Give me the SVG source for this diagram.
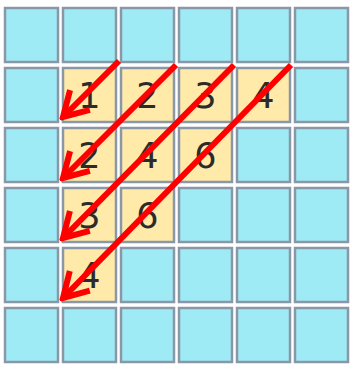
<svg xmlns="http://www.w3.org/2000/svg" width="351" height="367" viewBox="0 0 351 367">
<style>
.c{fill:#9eebf5;stroke:#8a97a6;stroke-width:2.5}
.y{fill:#ffeaaa;stroke:#8a97a6;stroke-width:2.5}
.t{font-family:"DejaVu Sans",sans-serif;font-size:35px;fill:#2b2b2b;text-anchor:middle}
.a{stroke:#ff0000;stroke-width:6;fill:none;stroke-linecap:butt}
</style>
<defs>
<marker id="ah" markerUnits="userSpaceOnUse" viewBox="-30 -18 34 36" refX="0" refY="0" markerWidth="34" markerHeight="36" orient="auto">
<path d="M-24,-14 L0,0 L-24,14" fill="none" stroke="#ff0000" stroke-width="6" stroke-linejoin="miter"/>
</marker>
</defs>
<rect width="351" height="367" fill="#ffffff"/>
<g id="grid">
<g id="r0">
<rect class="c" x="5" y="8" width="53" height="54"/><rect class="c" x="63" y="8" width="53" height="54"/><rect class="c" x="121" y="8" width="53" height="54"/><rect class="c" x="179" y="8" width="53" height="54"/><rect class="c" x="237" y="8" width="53" height="54"/><rect class="c" x="295" y="8" width="53" height="54"/>
</g>
<g id="r1">
<rect class="c" x="5" y="68" width="53" height="54"/>
<g id="n11"><rect class="y" x="63" y="68" width="53" height="54"/><text class="t" x="89.5" y="108">1</text></g>
<g id="n12"><rect class="y" x="121" y="68" width="53" height="54"/><text class="t" x="147.5" y="108">2</text></g>
<g id="n13"><rect class="y" x="179" y="68" width="53" height="54"/><text class="t" x="205.5" y="108">3</text></g>
<g id="n14"><rect class="y" x="237" y="68" width="53" height="54"/><text class="t" x="263.5" y="108">4</text></g>
<rect class="c" x="295" y="68" width="53" height="54"/>
</g>
<g id="r2">
<rect class="c" x="5" y="128" width="53" height="54"/>
<g id="n21"><rect class="y" x="63" y="128" width="53" height="54"/><text class="t" x="89.5" y="168">2</text></g>
<g id="n22"><rect class="y" x="121" y="128" width="53" height="54"/><text class="t" x="147.5" y="168">4</text></g>
<g id="n23"><rect class="y" x="179" y="128" width="53" height="54"/><text class="t" x="205.5" y="168">6</text></g>
<rect class="c" x="237" y="128" width="53" height="54"/><rect class="c" x="295" y="128" width="53" height="54"/>
</g>
<g id="r3">
<rect class="c" x="5" y="188" width="53" height="54"/>
<g id="n31"><rect class="y" x="63" y="188" width="53" height="54"/><text class="t" x="89.5" y="228">3</text></g>
<g id="n32"><rect class="y" x="121" y="188" width="53" height="54"/><text class="t" x="147.5" y="228">6</text></g>
<rect class="c" x="179" y="188" width="53" height="54"/><rect class="c" x="237" y="188" width="53" height="54"/><rect class="c" x="295" y="188" width="53" height="54"/>
</g>
<g id="r4">
<rect class="c" x="5" y="248" width="53" height="54"/>
<g id="n41"><rect class="y" x="63" y="248" width="53" height="54"/><text class="t" x="89.5" y="288">4</text></g>
<rect class="c" x="121" y="248" width="53" height="54"/><rect class="c" x="179" y="248" width="53" height="54"/><rect class="c" x="237" y="248" width="53" height="54"/><rect class="c" x="295" y="248" width="53" height="54"/>
</g>
<g id="r5">
<rect class="c" x="5" y="308" width="53" height="54"/><rect class="c" x="63" y="308" width="53" height="54"/><rect class="c" x="121" y="308" width="53" height="54"/><rect class="c" x="179" y="308" width="53" height="54"/><rect class="c" x="237" y="308" width="53" height="54"/><rect class="c" x="295" y="308" width="53" height="54"/>
</g>
</g>
<g id="connectors">
<path class="a" d="M119,61 L63,117" marker-end="url(#ah)"/>
<path class="a" d="M176,65 L63,178" marker-end="url(#ah)"/>
<path class="a" d="M234,65 L63,238" marker-end="url(#ah)"/>
<path class="a" d="M291,65 L63,298" marker-end="url(#ah)"/>
</g>
</svg>
